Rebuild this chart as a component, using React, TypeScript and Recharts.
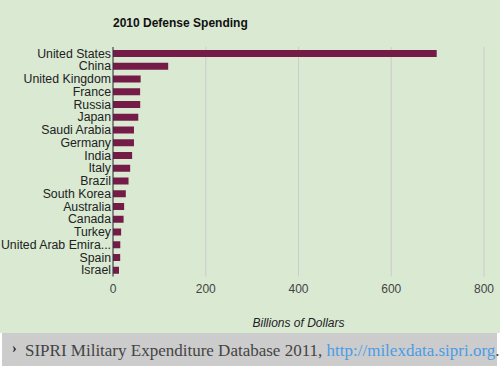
import React from "react";
import { BarChart, Bar, XAxis, YAxis, CartesianGrid, Label } from "recharts";

const countries = [
  "United States", "China", "United Kingdom", "France", "Russia", "Japan",
  "Saudi Arabia", "Germany", "India", "Italy", "Brazil", "South Korea",
  "Australia", "Canada", "Turkey", "United Arab Emirates", "Spain", "Israel",
];
const spending = [698, 119, 59.6, 58.5, 58.7, 54.5, 45.2, 45.2, 41.3, 37.0, 33.5, 27.6, 24.0, 22.8, 17.5, 15.7, 15.5, 13.0];
const xTicks = [0, 200, 400, 600, 800];

const data = countries.map((name, i) => ({ name, value: spending[i] }));

const BG = "#d9e9d2";
const BAR = "#741b47";
const FONT = "Liberation Sans, Arial, sans-serif";

const shorten = (s: string) => (s.length > 18 ? s.slice(0, 17) + "..." : s);

const CategoryTick = (props: any) => {
  const { x, y, payload } = props;
  return (
    <text x={x} y={y} dy="0.355em" textAnchor="end" fill="#222" fontSize={12.3} fontFamily={FONT}>
      {shorten(String(payload.value))}
    </text>
  );
};

export default function App() {
  return (
    <div style={{ position: "absolute", left: 0, top: 0, width: 500, height: 366, background: "#fff", overflow: "hidden" }}>
      <div style={{ position: "absolute", left: 0, top: 0, width: 500, height: 333, background: BG }}>
        <BarChart
          width={500}
          height={333}
          data={data}
          layout="vertical"
          margin={{ top: 47, right: 16, bottom: 0, left: 0 }}
        >
          <CartesianGrid horizontal={false} stroke="#cccccc" />
          <XAxis
            type="number"
            domain={[0, 800]}
            ticks={xTicks}
            axisLine={false}
            tickLine={false}
            height={56.5}
            tick={{ fill: "#444", fontSize: 12, fontFamily: FONT }}
          >
            <Label
              value="Billions of Dollars"
              position="insideBottom"
              offset={6}
              style={{ fill: "#222", fontSize: 12, fontStyle: "italic", fontFamily: FONT }}
            />
          </XAxis>
          <YAxis
            type="category"
            dataKey="name"
            width={113}
            interval={0}
            tickSize={0}
            tickMargin={2}
            axisLine={{ stroke: "#333" }}
            tickLine={false}
            tick={<CategoryTick />}
          />
          <Bar dataKey="value" fill={BAR} barSize={7} isAnimationActive={false} />
        </BarChart>
        <div
          style={{
            position: "absolute",
            left: 113,
            top: 16,
            fontFamily: FONT,
            fontWeight: "bold",
            fontSize: 12,
            color: "#111",
            whiteSpace: "nowrap",
          }}
        >
          2010 Defense Spending
        </div>
      </div>
      <div
        style={{
          position: "absolute",
          left: 2,
          top: 333,
          width: 495,
          height: 33,
          background: "#cccccc",
          fontFamily: "Liberation Serif, serif",
          fontSize: 17,
          color: "#444",
          whiteSpace: "nowrap",
          lineHeight: "33px",
        }}
      >
        <span style={{ position: "absolute", left: 10, top: -1, fontSize: 14, fontWeight: "bold", color: "#222" }}>›</span>
        <span style={{ position: "absolute", left: 23, top: 1 }}>
          SIPRI Military Expenditure Database 2011,{" "}
          <span style={{ color: "#4b9ce6" }}>http://milexdata.sipri.org</span>.
        </span>
      </div>
    </div>
  );
}
